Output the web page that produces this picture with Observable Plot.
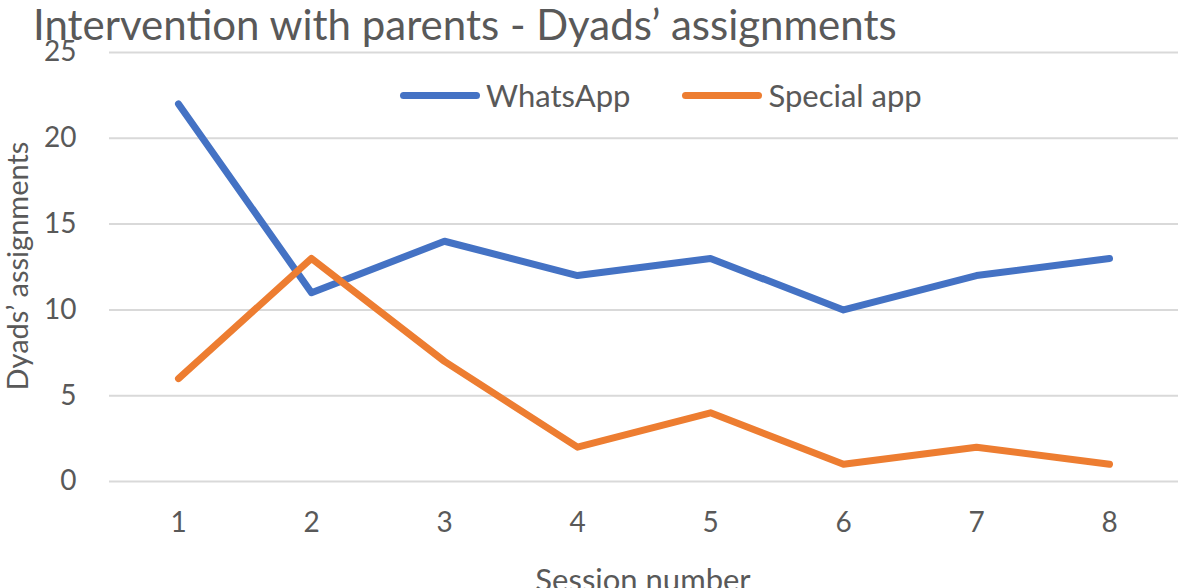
<!DOCTYPE html>
<html>
<head>
<meta charset="utf-8">
<script src="https://cdn.jsdelivr.net/npm/d3@7"></script>
<script src="https://cdn.jsdelivr.net/npm/@observablehq/plot@0.6"></script>
<style>
  html, body { margin: 0; padding: 0; background: #fff; }
  #wrap { position: relative; width: 1184px; height: 588px; overflow: hidden; font-family: Lato, "Open Sans", sans-serif; color: #595959; }
  #chart { position: absolute; left: 0; top: 0; }
  .ov { position: absolute; white-space: nowrap; }
  #title { left: 33px; top: 0px; font-size: 42px; line-height: 48px; }
  #ylab { left: 16px; top: 266px; font-size: 29px; line-height: 1; transform: translate(-50%, -50%) rotate(-90deg); }
  #xlab { left: 643px; top: 579px; font-size: 31px; transform: translate(-50%, -50%); }
  #legend { left: 400px; top: 78px; font-size: 31px; line-height: 34px; display: flex; align-items: center; }
  .sw { display: inline-block; width: 80px; height: 7px; border-radius: 4px; margin-right: 6px; }
</style>
</head>
<body>
<div id="wrap">
  <div id="chart"></div>
  <div id="title" class="ov">Intervention with parents - Dyads’ assignments</div>
  <div id="ylab" class="ov">Dyads’ assignments</div>
  <div id="xlab" class="ov">Session number</div>
  <div id="legend" class="ov"></div>
</div>
<script>
const sessions = [1, 2, 3, 4, 5, 6, 7, 8];
const whatsapp = [22, 11, 14, 12, 13, 10, 12, 13];
const specialApp = [6, 13, 7, 2, 4, 1, 2, 1];
const seriesNames = ["WhatsApp", "Special app"];
const seriesColors = ["#4472C4", "#ED7D31"];
const yTicks = [0, 5, 10, 15, 20, 25];

const rows = [];
sessions.forEach((s, i) => {
  rows.push({session: s, value: whatsapp[i], series: seriesNames[0]});
  rows.push({session: s, value: specialApp[i], series: seriesNames[1]});
});

const chart = Plot.plot({
  width: 1184,
  height: 588,
  marginTop: 52,
  marginBottom: 107,
  marginLeft: 109,
  marginRight: 6,
  style: {fontFamily: "Lato, 'Open Sans', sans-serif", fontSize: "28px", color: "#595959", background: "transparent", overflow: "visible"},
  x: {type: "point", domain: sessions, padding: 0.5, label: null},
  y: {domain: [0, 25], label: null},
  color: {domain: seriesNames, range: seriesColors},
  marks: [
    Plot.ruleY(yTicks, {stroke: "#d9d9d9", strokeWidth: 2}),
    Plot.axisY(yTicks, {tickSize: 0, tickPadding: 33, label: null, fill: "#595959"}),
    Plot.axisX(sessions, {tickSize: 0, tickPadding: 31, label: null, fill: "#595959"}),
    Plot.line(rows, {x: "session", y: "value", z: "series", stroke: "series", strokeWidth: 7, strokeLinecap: "round", strokeLinejoin: "round"})
  ]
});
document.getElementById("chart").appendChild(chart);

const legend = document.getElementById("legend");
seriesNames.forEach((name, i) => {
  const item = document.createElement("span");
  item.style.display = "inline-flex";
  item.style.alignItems = "center";
  item.style.marginRight = i === 0 ? "52px" : "0";
  const sw = document.createElement("span");
  sw.className = "sw";
  sw.style.background = seriesColors[i];
  const t = document.createElement("span");
  t.textContent = name;
  item.appendChild(sw);
  item.appendChild(t);
  legend.appendChild(item);
});
</script>
</body>
</html>
